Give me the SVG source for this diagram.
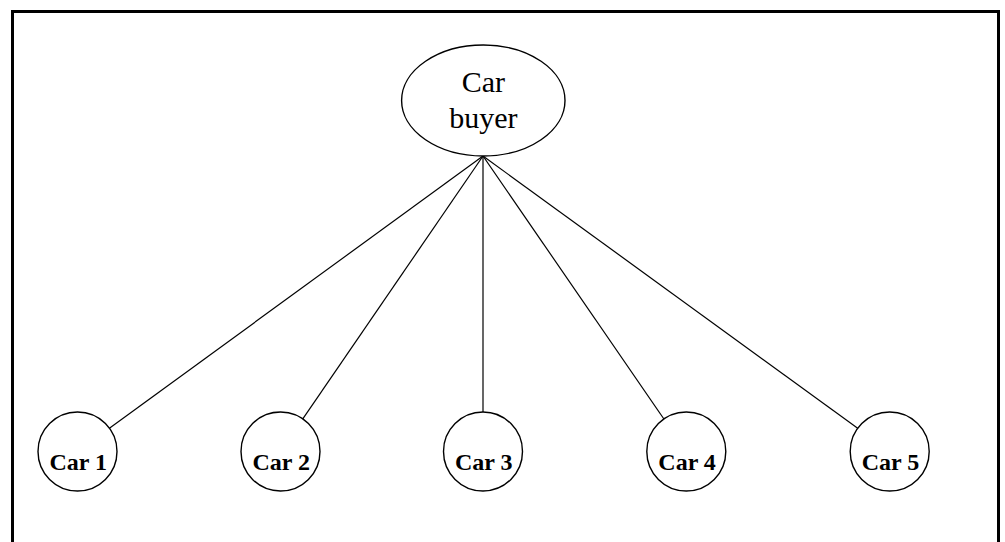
<svg xmlns="http://www.w3.org/2000/svg" width="1005" height="542" viewBox="0 0 1005 542">
  <style>
    .node { fill: #fff; stroke: #000; stroke-width: 1.4; }
    .edge { stroke: #000; stroke-width: 1.2; fill: none; }
    .lbl { font-family: "Liberation Serif", "Times New Roman", serif; font-weight: bold; font-size: 24px; text-anchor: middle; fill: #000; }
    .top { font-family: "Liberation Serif", "Times New Roman", serif; font-size: 30px; text-anchor: middle; fill: #000; }
  </style>
  <rect x="0" y="0" width="1005" height="542" fill="#fff"/>
  <rect x="12.5" y="11.5" width="986" height="560" fill="none" stroke="#000" stroke-width="3"/>
  <g id="connectors">
    <line class="edge" x1="483" y1="156" x2="109.4" y2="428.2"/>
    <line class="edge" x1="483" y1="156" x2="302.8" y2="418.9"/>
    <line class="edge" x1="483" y1="156" x2="483" y2="412"/>
    <line class="edge" x1="483" y1="156" x2="663.9" y2="419"/>
    <line class="edge" x1="483" y1="156" x2="857.7" y2="428.3"/>
  </g>
  <g id="car-buyer">
    <ellipse class="node" cx="483.3" cy="100.5" rx="81.7" ry="55.5"/>
    <text class="top" x="483.3" y="91.7">Car</text>
    <text class="top" x="483.3" y="128.3">buyer</text>
  </g>
  <g id="car1">
    <circle class="node" cx="77.5" cy="451.5" r="39.5"/>
    <text class="lbl" x="78.3" y="470">Car 1</text>
  </g>
  <g id="car2">
    <circle class="node" cx="280.5" cy="451.5" r="39.5"/>
    <text class="lbl" x="281.3" y="470">Car 2</text>
  </g>
  <g id="car3">
    <circle class="node" cx="483" cy="451.5" r="39.5"/>
    <text class="lbl" x="483.8" y="470">Car 3</text>
  </g>
  <g id="car4">
    <circle class="node" cx="686.3" cy="451.5" r="39.5"/>
    <text class="lbl" x="687.1" y="470">Car 4</text>
  </g>
  <g id="car5">
    <circle class="node" cx="889.7" cy="451.5" r="39.5"/>
    <text class="lbl" x="890.5" y="470">Car 5</text>
  </g>
</svg>
